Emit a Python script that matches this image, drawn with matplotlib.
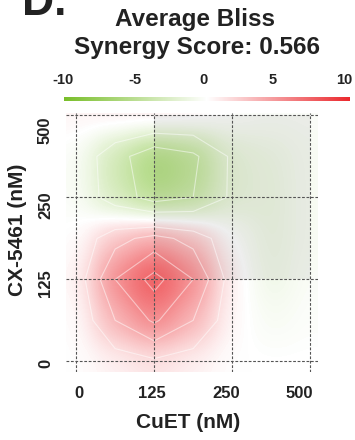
import matplotlib
matplotlib.use("Agg")

import matplotlib.pyplot as plt
import numpy as np
from matplotlib.colors import LinearSegmentedColormap
from matplotlib.patches import Rectangle

plt.rcParams['font.family'] = ['Liberation Sans', 'DejaVu Sans']
plt.rcParams['font.weight'] = 'bold'
plt.rcParams['text.color'] = '#222222'
plt.rcParams['xtick.color'] = '#222222'
plt.rcParams['ytick.color'] = '#222222'

cuet_doses = ["0", "125", "250", "500"]
cx_doses = ["0", "125", "250", "500"]
avg_score = 0.566
cbar_ticks = [-10, -5, 0, 5, 10]

# Bliss synergy surface read at half-dose steps
# rows: CX-5461 0 -> 500 (bottom to top), cols: CuET 0 -> 500
bliss_surface = np.array([
    [0.0, 0.6, 1.2, 0.6, 0.0, 0.0, 0.0],
    [0.0, 3.5, 5.8, 3.5, 0.3, -0.6, -0.2],
    [0.3, 5.5, 8.2, 5.5, 0.5, -1.2, -0.3],
    [0.0, 2.8, 4.2, 2.8, 0.0, -1.3, -0.5],
    [-0.3, -3.2, -5.5, -4.5, -1.6, -1.3, -0.5],
    [-0.3, -3.5, -6.2, -5.0, -1.6, -1.2, -0.5],
    [0.5, 1.0, 1.2, 0.8, 0.0, -0.3, -0.3],
])
steps = np.linspace(0, 3, 7)

# green -> transparent -> red
g = (120 / 255, 190 / 255, 40 / 255)
r = (235 / 255, 40 / 255, 45 / 255)
cdict = {
    'red': [(0, g[0], g[0]), (0.5, g[0], r[0]), (1, r[0], r[0])],
    'green': [(0, g[1], g[1]), (0.5, g[1], r[1]), (1, r[1], r[1])],
    'blue': [(0, g[2], g[2]), (0.5, g[2], r[2]), (1, r[2], r[2])],
    'alpha': [(0, 1, 1), (0.5, 0, 0), (1, 1, 1)],
}
cmap = LinearSegmentedColormap('bliss', cdict)

fig = plt.figure(figsize=(3.55, 4.4), dpi=100)

def fx(x):
    return x / 355

def fy(y):
    return 1 - y / 440

ax = fig.add_axes([fx(66), fy(372), 252 / 355, 259 / 440])
ax.add_patch(Rectangle((1, 1), 2, 2, facecolor='#eeeeee', edgecolor='none', zorder=0))
ax.imshow(bliss_surface, cmap=cmap, vmin=-10, vmax=10, origin='lower',
          extent=(-0.25, 3.25, -0.25, 3.25), interpolation='gaussian',
          aspect='auto', zorder=1)
ax.contour(steps, steps, bliss_surface, levels=[-4.5, -2, 1.5, 3.5, 5.5, 7.5],
           colors='white', linewidths=0.8, linestyles='solid', alpha=0.5, zorder=2)

for i in range(len(cuet_doses)):
    ax.axvline(i, color='#555555', lw=0.8, ls=(0, (2.5, 1.5)), zorder=3)
for i in range(len(cx_doses)):
    ax.axhline(i, color='#555555', lw=0.8, ls=(0, (2.5, 1.5)), zorder=3)

ax.set_xlim(-0.13, 3.1)
ax.set_ylim(-0.13, 3.03)

ax.set_xticks([0.03, 0.97, 1.92, 2.86], cuet_doses)
ax.set_yticks([-0.02, 0.95, 1.91, 2.82], cx_doses)
ax.tick_params(axis='x', length=0, labelsize=12, pad=10)
ax.tick_params(axis='y', length=0, labelsize=12, pad=9.4)
plt.setp(ax.get_yticklabels(), rotation=90, va='center')
for s in ax.spines.values():
    s.set_visible(False)

# colour bar
cax = fig.add_axes([fx(63), fy(101), 286 / 355, 4 / 440])
cax.imshow(np.linspace(-10, 10, 256)[None, :], cmap=cmap, vmin=-10, vmax=10,
           extent=(-10, 10, 0, 1), aspect='auto')
cax.set_xlim(-10, 10)
cax.xaxis.tick_top()
cax.set_xticks([-10.07, -5.03, -0.21, 4.62, 9.65], [str(t) for t in cbar_ticks])
cax.set_yticks([])
cax.tick_params(axis='x', length=0, labelsize=10.5, pad=7)
for s in cax.spines.values():
    s.set_visible(False)

fig.text(fx(22), fy(15), "D.", fontsize=32, ha='left', va='baseline')
fig.text(fx(195), fy(26), "Average Bliss", fontsize=17.5, ha='center', va='baseline')
fig.text(fx(197), fy(54), f"Synergy Score: {avg_score}", fontsize=17.5,
         ha='center', va='baseline')
fig.text(fx(188), fy(422), "CuET (nM)", fontsize=15, ha='center', va='center')
fig.text(fx(18), fy(230), "CX-5461 (nM)", fontsize=15, rotation=90,
         ha='center', va='center')

fig.savefig("out.png", dpi=100)
